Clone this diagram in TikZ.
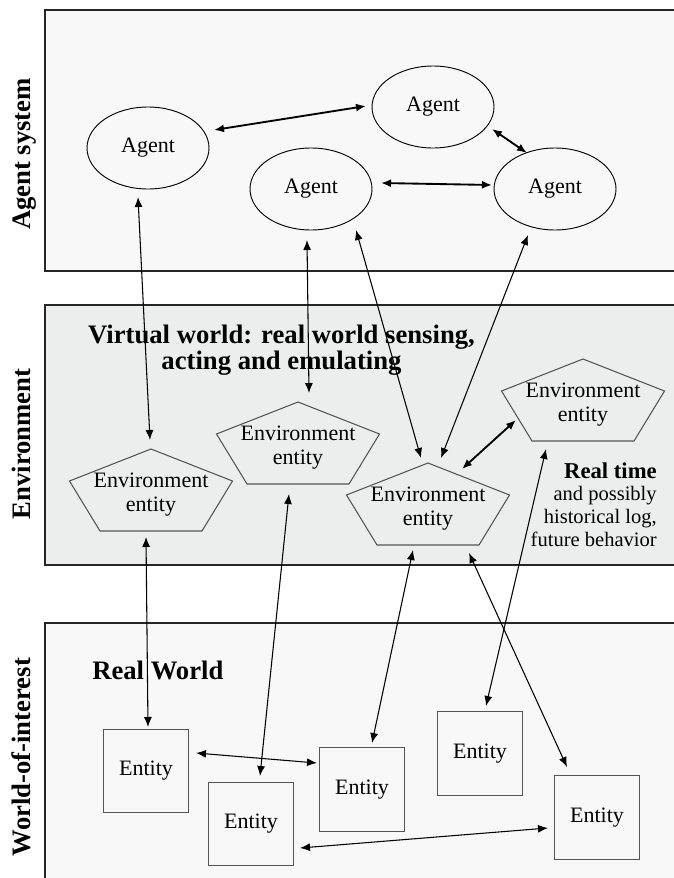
\documentclass[tikz,border=0pt]{standalone}
\usepackage{fontspec}
\setmainfont{Liberation Serif}
\usetikzlibrary{arrows.meta,calc,shapes.geometric}

\definecolor{panellight}{RGB}{248,248,248}
\definecolor{paneldark}{RGB}{236,237,237}
\definecolor{shapeline}{RGB}{85,85,85}

\newcommand{\envshape}[1]{%
  \draw[shapeline, line width=0.8pt, line join=miter]
    ($(#1)+(0,-46)$) -- ($(#1)+(81.5,-14)$) -- ($(#1)+(51,36)$)
    -- ($(#1)+(-51,36)$) -- ($(#1)+(-81.5,-14)$) -- cycle;}

\begin{document}
\begin{tikzpicture}[x=0.75pt, y=-0.75pt,
    agent/.style={ellipse, draw, line width=0.7pt, minimum width=91.5pt,
        minimum height=61.5pt, inner sep=0pt, font=\fontsize{16.5}{18}\selectfont},
    envtext/.style={align=center, inner sep=0pt, font=\fontsize{16.5}{18}\selectfont},
    entity/.style={draw=shapeline, fill=panellight, line width=0.8pt, minimum width=63.5pt,
        minimum height=62.5pt, font=\fontsize{16.5}{18}\selectfont},
    sidelabel/.style={rotate=90, anchor=base, font=\bfseries\fontsize{20}{24}\selectfont},
    panelline/.style={line width=1.8pt, black!85},
    link/.style={{Latex[length=7.5pt,width=6pt]}-{Latex[length=7.5pt,width=6pt]}, line width=0.8pt},
    biglink/.style={link, line width=1.4pt}]

    \useasboundingbox (0,0) rectangle (674,878);

    % panels
    \fill[panellight] (45,10) rectangle (674,271);
    \draw[panelline] (674,10) -- (45,10) -- (45,271) -- (674,271);
    \fill[paneldark] (45,305) rectangle (674,565);
    \draw[panelline] (674,305) -- (45,305) -- (45,565) -- (674,565);
    \fill[panellight] (45,623) rectangle (674,878);
    \draw[panelline] (674,623) -- (45,623) -- (45,878);

    \node[sidelabel] (labagent) at (30,154) {Agent system};
    \node[sidelabel] (labenv) at (30,444) {Environment};
    \node[sidelabel] (labworld) at (30,757) {World-of-interest};

    \node[agent] (a1) at (148,148) {Agent};
    \node[agent] (a2) at (433,107) {Agent};
    \node[agent] (a3) at (311,189) {Agent};
    \node[agent] (a4) at (555,189) {Agent};

    \node[align=center, inner sep=0pt, font=\bfseries\fontsize{20}{18}\selectfont] (virtual) at (281.5,350)
        {Virtual world: real world sensing,\\acting and emulating};

    \node[envtext] (e1) at (151,495) {Environment\\entity};
    \node[envtext] (e2) at (298,448) {Environment\\entity};
    \node[envtext] (e3) at (428,509) {Environment\\entity};
    \node[envtext] (e4) at (583,405) {Environment\\entity};
    \envshape{e1}
    \envshape{e2}
    \envshape{e3}
    \envshape{e4}

    \node[align=right, anchor=north east, inner sep=0pt, font=\fontsize{15.4}{17}\selectfont] (realtime) at (657,462)
        {{\bfseries\fontsize{17}{17}\selectfont Real time}\\and possibly\\historical log,\\future behavior};

    \node[anchor=base west, inner sep=0pt, font=\bfseries\fontsize{20}{24}\selectfont] (realworld) at (92,679) {Real World};

    \node[entity] (n1) at (146,771) {Entity};
    \node[entity] (n2) at (251,824) {Entity};
    \node[entity] (n3) at (362,789.5) {Entity};
    \node[entity] (n4) at (480,753.5) {Entity};
    \node[entity] (n5) at (597,817.5) {Entity};

    \draw[biglink] ($(a1)+(66,-18)$) -- ($(a2)+(-67,-1)$);
    \draw[biglink] ($(a2)+(59,22)$) -- ($(a4)+(-28,-36)$);
    \draw[biglink] ($(a3)+(70,-6)$) -- ($(a4)+(-63,-4)$);

    \draw[link] ($(a1)+(-10,49)$) -- ($(e1)+(-1,-55)$);
    \draw[link] ($(a3)+(-4,51)$) -- ($(e2)+(11,-55)$);
    \draw[link] ($(a3)+(45,41)$) -- ($(e3)+(-7,-51)$);
    \draw[link] ($(a4)+(-27,46)$) -- ($(e3)+(13,-51)$);
    \draw[biglink] ($(e3)+(34,-40)$) -- ($(e4)+(-67,15)$);

    \draw[link] ($(e1)+(-5,42)$) -- ($(n1)+(2,-44)$);
    \draw[link] ($(e2)+(-9,46)$) -- ($(n2)+(9,-48)$);
    \draw[link] ($(e3)+(-15,41)$) -- ($(n3)+(10,-46.5)$);
    \draw[link] ($(e3)+(41,44)$) -- ($(n5)+(-30,-50.5)$);
    \draw[link] ($(e4)+(-37,44)$) -- ($(n4)+(6,-47.5)$);

    \draw[link] ($(n1)+(50,-18)$) -- ($(n3)+(-45,-26.5)$);
    \draw[link] ($(n2)+(49,24)$) -- ($(n5)+(-49,10.5)$);
\end{tikzpicture}
\end{document}
